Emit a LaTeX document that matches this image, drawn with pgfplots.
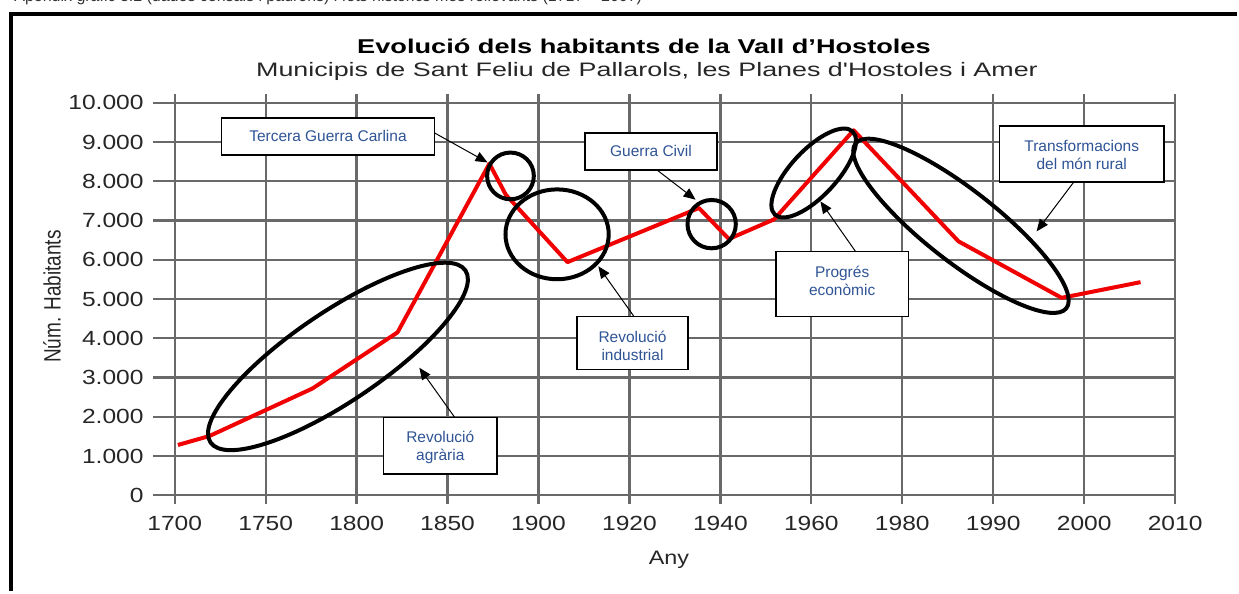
\documentclass[border=0pt]{standalone}
\usepackage{fontspec}
\setmainfont{Liberation Sans}
\newfontfamily\chartfont{Liberation Sans}[FakeStretch=1.2]
\newfontfamily\titlefont{Liberation Sans}[FakeStretch=1.36]
\newfontfamily\subfont{Liberation Sans}[FakeStretch=1.38]
\usepackage{graphicx}
\usepackage{pgfplots}
\pgfplotsset{compat=1.18}
\usetikzlibrary{arrows.meta}
\definecolor{gridgray}{RGB}{105,105,105}
\definecolor{annblue}{RGB}{47,84,150}
\definecolor{linered}{RGB}{240,0,0}
\tikzset{
  ann/.style={font=\fontsize{7.75}{9}\selectfont, text=annblue, align=center, inner sep=0pt},
  box/.style={draw=black, fill=white, line width=0.8pt},
  arr/.style={line width=0.5pt, -{Triangle[length=6pt,width=5pt]}},
  ell/.style={line width=2pt, draw=black},
}
\begin{document}
\begin{tikzpicture}
\begin{scope}[x=0.5pt,y=-0.5pt]
\path[use as bounding box] (0,0) rectangle (1239,592);
\node[overlay, anchor=base west, inner sep=0pt, font=\fontsize{8}{9}\selectfont, text=black!80] at (14,2) {Apèndix gràfic 3.2 (dades censals i padrons) i fets històrics més rellevants (1717 – 2007)};
\end{scope}

\begin{axis}[
  at={(87.5pt,-248pt)}, anchor=south west,
  scale only axis, width=501pt, height=196.5pt,
  xmin=0, xmax=11, ymin=0, ymax=10000,
  xtick={0,...,11},
  xticklabels={1700,1750,1800,1850,1900,1920,1940,1960,1980,1990,2000,2010},
  ytick={0,1000,...,10000},
  scaled y ticks=false,
  /pgf/number format/1000 sep={.},
  /pgf/number format/assume math mode=true,
  grid=major,
  major grid style={draw=gridgray, line width=1.15pt},
  axis line style={draw=none},
  tick align=outside,
  major tick length=4.5pt,
  xtick style={draw=gridgray, line width=1.15pt},
  ytick style={draw=none},
  tick label style={font=\chartfont\fontsize{10.25}{12}\selectfont, text=black!85},
  xticklabel style={yshift=-2.7pt},
  yticklabel style={xshift=-7.6pt},
]
\addplot[linered, line width=2pt, line join=round, mark=none] coordinates {
 (0.035,1280) (0.383,1510) (1.515,2720) (2.45,4150) (3.46,8450) (3.64,7660)
 (4.318,5940) (5.764,7320) (6.093,6530) (6.59,7030) (7.465,9300) (8.618,6470)
 (9.752,5030) (10.62,5430)
};
\end{axis}

\begin{scope}[x=0.5pt,y=-0.5pt]
% y tick stubs
\foreach \k in {0,...,10} \draw[gridgray, line width=1.15pt] (153,{496-39.3*\k}) -- (175,{496-39.3*\k});
% frame
\draw[line width=2pt] (11.5,592) -- (11.5,14) -- (1239,14);
% titles
\node[anchor=base, inner sep=0pt, font=\titlefont\bfseries\fontsize{10}{12}\selectfont] at (645,53.5) {Evolució dels habitants de la Vall d’Hostoles};
\node[anchor=base, inner sep=0pt, font=\subfont\fontsize{9.75}{12}\selectfont, text=black!85] at (648,77) {Municipis de Sant Feliu de Pallarols, les Planes d'Hostoles i Amer};
\node[anchor=base, inner sep=0pt, font=\chartfont\fontsize{9.75}{12}\selectfont, text=black!85] at (670,565) {Any};
\node[rotate=90, inner sep=0pt, font=\fontsize{9.5}{11}\selectfont, text=black!85] at (52,297) {\scalebox{1}[1.25]{Núm. Habitants}};

% ellipses
\draw[ell, rotate around={34:(338.5,357)}] (338.5,357) ellipse [x radius=77pt, y radius=22.5pt];
\draw[ell] (511.3,176.2) circle [radius=11.7pt];
\draw[ell] (558,234.7) ellipse [x radius=25.85pt, y radius=22.5pt];
\draw[ell] (712.8,224.5) circle [radius=12.1pt];
\draw[ell, rotate around={47:(815,173.3)}] (815,173.3) ellipse [x radius=28.5pt, y radius=11.5pt];
\draw[ell, rotate around={-38:(962.5,226.2)}] (962.5,226.2) ellipse [x radius=67pt, y radius=18pt];

% arrows
\draw[arr] (435,133) -- (488.3,162.7);
\draw[arr] (657.7,170) -- (696.7,200);
\draw[arr] (635,317) -- (599.3,266.7);
\draw[arr] (455.4,418) -- (420,368.3);
\draw[arr] (857,252) -- (821.7,201.7);
\draw[arr] (1075,183) -- (1038.3,231.7);

% boxes
\draw[box] (222,118) rectangle (435,155);
\node[ann] at (328.5,136.5) {Tercera Guerra Carlina};
\draw[box] (586,133) rectangle (718,170);
\node[ann] at (652,151.5) {Guerra Civil};
\draw[box] (578,317) rectangle (689,370);
\begin{scope}
\clip (578,317) rectangle (689,361);
\node[ann] at (633.5,346.5) {Revolució\\industrial};
\end{scope}
\draw[box] (384,418) rectangle (498,475);
\node[ann] at (441,448.3) {Revolució\\agrària};
\draw[box] (777,252) rectangle (910,317);
\node[ann] at (843.5,281.7) {Progrés\\econòmic};
\draw[box] (1001,126) rectangle (1166,182);
\node[ann] at (1083.5,155) {Transformacions\\del món rural};
\end{scope}
\end{tikzpicture}
\end{document}
